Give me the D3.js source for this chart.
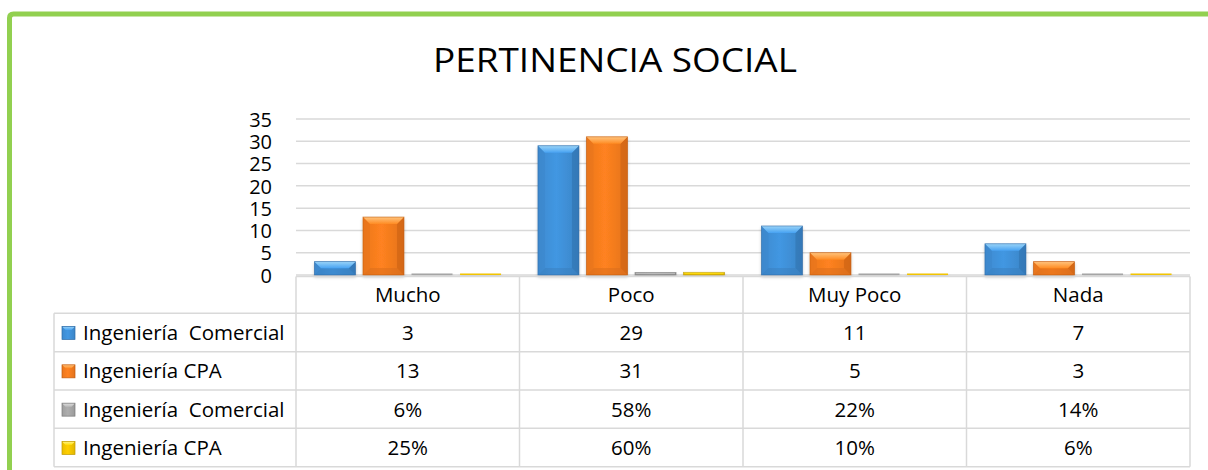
<!DOCTYPE html>
<html><head><meta charset="utf-8">
<script src="https://cdn.jsdelivr.net/npm/d3@7"></script>
<style>body{margin:0;background:#fff}svg{display:block}text{font-family:"Open Sans",sans-serif;fill:#000}</style>
</head><body><svg id="c" width="1208" height="470"></svg>
<script>
const title = "PERTINENCIA SOCIAL";
const categories = ["Mucho","Poco","Muy Poco","Nada"];
const seriesNames = ["Ingeniería  Comercial","Ingeniería CPA","Ingeniería  Comercial","Ingeniería CPA"];
const comercial = [3,29,11,7];
const cpa = [13,31,5,3];
const comercialPct = [0.06,0.58,0.22,0.14];
const cpaPct = [0.25,0.60,0.10,0.06];
const comercialPctLabels = ["6%","58%","22%","14%"];
const cpaPctLabels = ["25%","60%","10%","6%"];
const yTicks = [0,5,10,15,20,25,30,35];
const colors = [
  {base:"#3f8fd6", light:"#9ad4f8", dark:"#2d6aa5"},
  {base:"#f47b1e", light:"#ffc47e", dark:"#c15a0e"},
  {base:"#a5a5a5", light:"#dedede", dark:"#7a7a7a"},
  {base:"#f2c400", light:"#fff290", dark:"#bf9a00"}
];

const values = [comercial, cpa, comercialPct, cpaPct];
const rowLabels = [comercial.map(String), cpa.map(String), comercialPctLabels, cpaPctLabels];

const svg = d3.select("#c");
const defs = svg.append("defs");
colors.forEach((c,i)=>{
  const g = defs.append("linearGradient").attr("id","g"+i).attr("x1",0).attr("x2",1).attr("y1",0).attr("y2",0);
  g.append("stop").attr("offset","0%").attr("stop-color",d3.color(c.base).darker(0.1));
  g.append("stop").attr("offset","45%").attr("stop-color",d3.color(c.base).brighter(0.15));
  g.append("stop").attr("offset","100%").attr("stop-color",d3.color(c.base).darker(0.2));
  const t = defs.append("linearGradient").attr("id","t"+i).attr("x1",0).attr("x2",0).attr("y1",0).attr("y2",1);
  t.append("stop").attr("offset","0%").attr("stop-color",c.light);
  t.append("stop").attr("offset","100%").attr("stop-color",d3.color(c.base).brighter(0.35));
});
const f = defs.append("filter").attr("id","sh").attr("x","-20%").attr("y","-20%").attr("width","140%").attr("height","160%");
f.append("feDropShadow").attr("dx",0).attr("dy",2).attr("stdDeviation",1.5).attr("flood-color","#000").attr("flood-opacity",0.22);

// green frame
svg.append("path").attr("d","M9.5,470 L9.5,18 Q9.5,14 13.5,14 L1208,14")
  .attr("fill","none").attr("stroke","#92d050").attr("stroke-width",5);

// title
svg.append("text").attr("x",615).attr("y",72).attr("text-anchor","middle")
  .attr("font-size",33).attr("textLength",364).attr("lengthAdjust","spacingAndGlyphs").text(title);

const x = d3.scaleBand().domain(categories).range([296,1190]).padding(0);
const xs = d3.scaleBand().domain(d3.range(4)).range([0,x.bandwidth()]).paddingInner(0.155).paddingOuter(0.38);
const y = d3.scaleLinear().domain([0,35]).range([275,119]);

// gridlines
svg.append("g").selectAll("line").data(yTicks).join("line")
  .attr("x1",296).attr("x2",1190).attr("y1",d=>y(d)).attr("y2",d=>y(d))
  .attr("stroke","#d9d9d9").attr("stroke-width",1.5);

// y axis labels
const yAxis = d3.axisLeft(y).tickValues(yTicks).tickSize(0).tickPadding(0);
const ya = svg.append("g").attr("transform","translate(272,0)").call(yAxis);
ya.select(".domain").remove();
ya.selectAll("text").attr("font-size",20).attr("font-family","'Liberation Sans', Arial, sans-serif").attr("fill","#000").attr("dy","0.36em");

// bars
function bevelBar(g, bx, by, w, h, i){
  const c = colors[i];
  const gg = g.append("g").attr("filter","url(#sh)");
  if (h < 1.2) {
    gg.append("rect").attr("x",bx).attr("y",y(0)-1.5).attr("width",w).attr("height",1.5).attr("fill",c.base);
    return;
  }
  gg.append("rect").attr("x",bx).attr("y",by).attr("width",w).attr("height",h).attr("fill","url(#g"+i+")");
  const b = Math.min(7, h/2, w/2);
  gg.append("path").attr("d",`M${bx},${by+h} L${bx+w},${by+h} L${bx+w-b},${by+h-b} L${bx+b},${by+h-b}Z`).attr("fill",d3.color(c.base).darker(0.4)).attr("opacity",0.45);
  gg.append("path").attr("d",`M${bx+w},${by} L${bx+w},${by+h} L${bx+w-b},${by+h-b} L${bx+w-b},${by+b}Z`).attr("fill",c.dark).attr("opacity",0.45);
  gg.append("path").attr("d",`M${bx},${by} L${bx},${by+h} L${bx+b},${by+h-b} L${bx+b},${by+b}Z`).attr("fill",d3.color(c.base).darker(0.2)).attr("opacity",0.4);
  gg.append("path").attr("d",`M${bx},${by} L${bx+w},${by} L${bx+w-b},${by+b} L${bx+b},${by+b}Z`).attr("fill","url(#t"+i+")");
  gg.append("rect").attr("x",bx).attr("y",by).attr("width",w).attr("height",h).attr("fill","none").attr("stroke",c.dark).attr("stroke-width",0.8).attr("opacity",0.7);
}
const barG = svg.append("g");
values.forEach((vals,i)=>{
  vals.forEach((v,j)=>{
    const bx = x(categories[j]) + xs(i);
    const by = y(v);
    bevelBar(barG, bx, by, xs.bandwidth(), y(0)-by, i);
  });
});

// data table
const rowTop = [276.5, 313.3, 351.7, 390, 428.3, 466.7];
const tg = svg.append("g").attr("stroke","#d9d9d9").attr("stroke-width",1.5);
tg.append("line").attr("x1",296).attr("x2",1190).attr("y1",rowTop[0]).attr("y2",rowTop[0]);
rowTop.slice(1).forEach(r=>tg.append("line").attr("x1",54).attr("x2",1190).attr("y1",r).attr("y2",r));
tg.append("line").attr("x1",54).attr("x2",54).attr("y1",rowTop[1]).attr("y2",rowTop[5]);
const colEdges = categories.map(c=>x(c)).concat([x.range()[1]]);
colEdges.forEach(cx=>tg.append("line").attr("x1",cx).attr("x2",cx).attr("y1",rowTop[0]).attr("y2",rowTop[5]));

// header
svg.append("g").selectAll("text").data(categories).join("text")
  .attr("x",d=>x(d)+x.bandwidth()/2).attr("y",(rowTop[0]+rowTop[1])/2+7.5)
  .attr("text-anchor","middle").attr("font-size",20.5).text(d=>d);

// rows
rowLabels.forEach((labs,i)=>{
  const cy = (rowTop[i+1]+rowTop[i+2])/2;
  svg.append("g").selectAll("text").data(labs).join("text")
    .attr("x",(d,j)=>x(categories[j])+x.bandwidth()/2).attr("y",cy+7.5)
    .attr("text-anchor","middle").attr("font-size",20.5).text(d=>d);
  const sg = svg.append("g");
  const c = colors[i], sx=62, sy=cy-6, s=13, b=3.5;
  sg.append("rect").attr("x",sx).attr("y",sy).attr("width",s).attr("height",s).attr("fill","url(#g"+i+")");
  sg.append("path").attr("d",`M${sx},${sy} L${sx+s},${sy} L${sx+s-b},${sy+b} L${sx+b},${sy+b}Z`).attr("fill","url(#t"+i+")");
  sg.append("rect").attr("x",sx).attr("y",sy).attr("width",s).attr("height",s).attr("fill","none").attr("stroke",c.dark).attr("stroke-width",0.7);
  svg.append("text").attr("x",83).attr("y",cy+7.5).attr("font-size",20.5)
    .attr("xml:space","preserve").style("white-space","pre").text(seriesNames[i]);
});
</script></body></html>
